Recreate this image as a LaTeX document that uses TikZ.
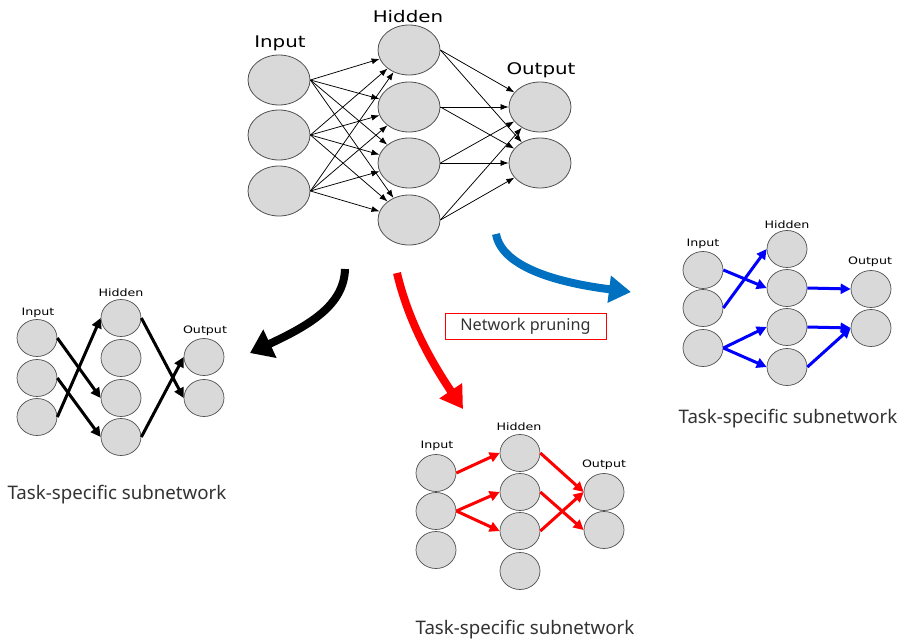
\documentclass[tikz,border=0pt]{standalone}
\usepackage{fontspec}
\usepackage{graphicx}
\usetikzlibrary{shapes.geometric,arrows.meta}
\newfontfamily\lblfont{DejaVu Sans}
\newfontfamily\txtfont{Noto Sans}
\definecolor{nodefill}{HTML}{D9D9D9}
\definecolor{nodeedge}{HTML}{505050}
\definecolor{bigblue}{HTML}{0070C0}
\definecolor{txtgray}{HTML}{333333}
\newcommand{\stretchlbl}[1]{\scalebox{1.24}[1]{#1}}
\tikzset{
  bignode/.style={ellipse,draw=nodeedge,fill=nodefill,line width=0.8pt,minimum width=62pt,minimum height=50pt,inner sep=0pt},
  smallnode/.style={ellipse,draw=nodeedge,fill=nodefill,line width=0.7pt,minimum width=40pt,minimum height=37pt,inner sep=0pt},
  toplbl/.style={font=\lblfont\fontsize{16}{16}\selectfont,inner sep=0pt},
  smalllbl/.style={font=\lblfont\fontsize{10.2}{10}\selectfont,inner sep=0pt},
  thinarrow/.style={-{Latex[length=8pt,width=6pt]},line width=0.75pt,black},
  fatarrow/.style={-{Triangle[length=10pt,width=10pt]},line width=3pt},
  captxt/.style={font=\txtfont\fontsize{18.7}{18.7}\selectfont,text=txtgray,inner sep=0pt},
}
\begin{document}
\begin{tikzpicture}[x=1pt,y=-1pt]
\useasboundingbox (0,0) rectangle (901,642);
% ---------------- top network
\node[bignode] (ti1) at (279,80) {};
\node[bignode] (ti2) at (279,135) {};
\node[bignode] (ti3) at (279,191) {};
\node[bignode] (th1) at (409,50) {};
\node[bignode] (th2) at (409,107) {};
\node[bignode] (th3) at (409,163) {};
\node[bignode] (th4) at (409,220) {};
\node[bignode] (to1) at (540,107) {};
\node[bignode] (to2) at (540,163) {};
\node[toplbl] (tlin) at (280,43) {\stretchlbl{Input}};
\node[toplbl] (tlhid) at (408,17) {\stretchlbl{Hidden}};
\node[toplbl] (tlout) at (541,70) {\stretchlbl{Output}};
\foreach \i in {1,2,3} \foreach \h in {1,2,3,4} \draw[thinarrow] (ti\i.east) -- (th\h);
\foreach \h in {1,2,3,4} \foreach \o in {1,2} \draw[thinarrow] (th\h.east) -- (to\o);
% ---------------- left network (black)
\node[smallnode] (li1) at (37,338) {};
\node[smallnode] (li2) at (37,378) {};
\node[smallnode] (li3) at (37,417) {};
\node[smallnode] (lh1) at (121,318) {};
\node[smallnode] (lh2) at (121,358) {};
\node[smallnode] (lh3) at (121,398) {};
\node[smallnode] (lh4) at (121,437) {};
\node[smallnode] (lo1) at (204,357) {};
\node[smallnode] (lo2) at (204,398) {};
\node[smalllbl] (llin) at (38,313) {\stretchlbl{Input}};
\node[smalllbl] (llhid) at (121,293) {\stretchlbl{Hidden}};
\node[smalllbl] (llout) at (205,331) {\stretchlbl{Output}};
\begin{scope}[fatarrow,black]
\draw (li1.east) -- (lh3.west);
\draw (li2.east) -- (lh4.west);
\draw (li3.east) -- (lh1.west);
\draw (lh1.east) -- (lo2.west);
\draw (lh4.east) -- (lo1.west);
\end{scope}
% ---------------- bottom network (red)
\node[smallnode] (ri1) at (436,473) {};
\node[smallnode] (ri2) at (436,511) {};
\node[smallnode] (ri3) at (436,550) {};
\node[smallnode] (rh1) at (520,453) {};
\node[smallnode] (rh2) at (520,492) {};
\node[smallnode] (rh3) at (520,531) {};
\node[smallnode] (rh4) at (520,571) {};
\node[smallnode] (ro1) at (604,492) {};
\node[smallnode] (ro2) at (604,530) {};
\node[smalllbl] (rlin) at (437,446) {\stretchlbl{Input}};
\node[smalllbl] (rlhid) at (519,427) {\stretchlbl{Hidden}};
\node[smalllbl] (rlout) at (604,465) {\stretchlbl{Output}};
\begin{scope}[fatarrow,red]
\draw (ri1.east) -- (rh1.west);
\draw (ri2.east) -- (rh2.west);
\draw (ri2.east) -- (rh3.west);
\draw (rh1.east) -- (ro1.west);
\draw (rh2.east) -- (ro2.west);
\draw (rh3.east) -- (ro1.west);
\end{scope}
% ---------------- right network (blue)
\node[smallnode] (bi1) at (703,270) {};
\node[smallnode] (bi2) at (703,308) {};
\node[smallnode] (bi3) at (703,348) {};
\node[smallnode] (bh1) at (787,249) {};
\node[smallnode] (bh2) at (787,288) {};
\node[smallnode] (bh3) at (787,327) {};
\node[smallnode] (bh4) at (787,367) {};
\node[smallnode] (bo1) at (871,289) {};
\node[smallnode] (bo2) at (871,328) {};
\node[smalllbl] (blin) at (703,244) {\stretchlbl{Input}};
\node[smalllbl] (blhid) at (787,225) {\stretchlbl{Hidden}};
\node[smalllbl] (blout) at (870,262) {\stretchlbl{Output}};
\begin{scope}[fatarrow,blue]
\draw (bi1.east) -- (bh2.west);
\draw (bi2.east) -- (bh1.west);
\draw (bi3.east) -- (bh3.west);
\draw (bi3.east) -- (bh4.west);
\draw (bh2.east) -- (bo1.west);
\draw (bh3.east) -- (bo2.west);
\draw (bh4.east) -- (bo2.west);
\end{scope}
% ---------------- big curved arrows
\coordinate (kS) at (345,269);
\coordinate (kE) at (250,353);
\coordinate (rS) at (397,273);
\coordinate (rE) at (463,409);
\coordinate (uS) at (496,234);
\coordinate (uE) at (631,292);
\draw[line width=8pt,black,-{Triangle[length=22pt,width=30pt]}] (kS) .. controls (344,305) and (310,325) .. (kE);
\draw[line width=8pt,red,-{Triangle[length=22pt,width=26pt]}] (rS) .. controls (408,320) and (430,360) .. (rE);
\draw[line width=8pt,bigblue,-{Triangle[length=22pt,width=26pt]}] (uS) .. controls (502,268) and (560,283) .. (uE);
% ---------------- labels
\node[draw=red,line width=0.6pt,minimum width=161pt,minimum height=26pt,inner sep=0pt,font=\txtfont\fontsize{16.2}{16.2}\selectfont,text=txtgray] (prune) at (525.5,326) {Network pruning};
\node[captxt] (capL) at (117,495) {Task-specific subnetwork};
\node[captxt] (capB) at (525,630) {Task-specific subnetwork};
\node[captxt] (capR) at (788,419) {Task-specific subnetwork};
\end{tikzpicture}
\end{document}
